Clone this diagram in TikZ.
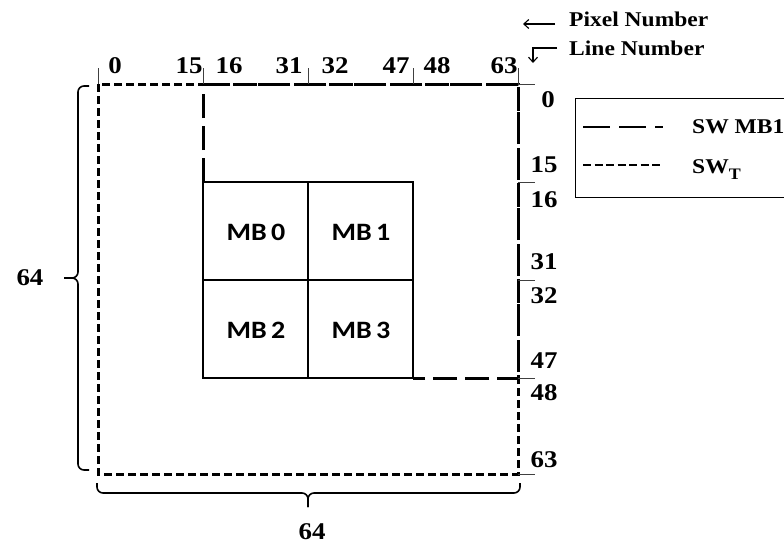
\documentclass[tikz,border=0pt]{standalone}
\usepackage{fontspec}
\setmainfont{Liberation Serif}[FakeStretch=1.12]
\newfontfamily\mbfont{Carlito}[FakeStretch=1.12]
\usetikzlibrary{arrows.meta}
\begin{document}
\begin{tikzpicture}[x=1pt,y=-1pt,
  num/.style={font=\fontsize{24}{26}\selectfont\bfseries, inner sep=0pt},
  lab/.style={font=\fontsize{21}{23}\selectfont\bfseries, inner sep=0pt, anchor=base west},
  mb/.style={font=\mbfont\fontsize{25}{27}\selectfont\bfseries, inner sep=0pt},
  tickline/.style={line width=0.9pt, black!75},
  swt/.style={line width=3pt, dash pattern=on 8pt off 4pt},
  swmb/.style={line width=3pt, dash pattern=on 24pt off 8pt},
  mbline/.style={line width=2.4pt},
  bracepath/.style={line width=1.6pt, rounded corners=6pt},
  arr/.style={line width=1.1pt, -{Straight Barb[length=5pt,width=9pt]}}]
\useasboundingbox (0,0) rectangle (784,546);

% outer search window SW_T
\draw[swt] (98,84) rectangle (518,474);
% search window of MB1
\draw[swmb] (203,182) -- (203,84) -- (518,84) -- (518,378) -- (413,378);
% macroblocks
\draw[mbline] (203,182) rectangle (413,378);
\draw[mbline] (308,182) -- (308,378);
\draw[mbline] (203,280) -- (413,280);
\node[mb] (mb0) at (256,232) {MB\,0};
\node[mb] (mb1) at (361,232) {MB\,1};
\node[mb] (mb2) at (256,330) {MB\,2};
\node[mb] (mb3) at (361,330) {MB\,3};

% top ticks
\foreach \x in {98,203,308,413,518} \draw[tickline] (\x,68) -- (\x,84);
% right ticks
\foreach \y in {84,182,280,378,474} \draw[tickline] (518,\y) -- (535,\y);

% top labels
\node[num] (t0)  at (115,66) {0};
\node[num] (t15) at (189,66) {15};
\node[num] (t16) at (229,66) {16};
\node[num] (t31) at (289,66) {31};
\node[num] (t32) at (335,66) {32};
\node[num] (t47) at (396,66) {47};
\node[num] (t48) at (437,66) {48};
\node[num] (t63) at (504,66) {63};

% right labels
\node[num] (r0)  at (548,100) {0};
\node[num] (r15) at (544,165) {15};
\node[num] (r16) at (544,200) {16};
\node[num] (r31) at (544,262) {31};
\node[num] (r32) at (544,296) {32};
\node[num] (r47) at (544,361) {47};
\node[num] (r48) at (544,393) {48};
\node[num] (r63) at (544,460) {63};

% left brace
\draw[bracepath] (89,86) -- (78,86) -- (78,278) -- (64,278);
\draw[bracepath] (64,278) -- (78,278) -- (78,470) -- (89,470);
\node[num] (left64) at (30,278) {64};
% bottom brace
\draw[bracepath] (97,483) -- (97,493) -- (308,493) -- (308,507);
\draw[bracepath] (308,507) -- (308,493) -- (520,493) -- (520,483);
\node[num] (bot64) at (312,532) {64};

% pixel / line number hints
\node[lab] (pix) at (569,27) {Pixel Number};
\node[lab] (line) at (569,55) {Line Number};
\coordinate (pa) at (555,24);
\coordinate (pb) at (523,24);
\draw[arr] (pa) -- (pb);
\coordinate (la) at (557,48);
\coordinate (lb) at (533,48);
\coordinate (lc) at (533,63);
\draw[arr] (la) -- (lb) -- (lc);

% legend
\draw[line width=0.9pt] (575,98) rectangle (800,197);
\coordinate (l1a) at (583,127);
\coordinate (l1b) at (663,127);
\coordinate (l2a) at (583,165);
\coordinate (l2b) at (663,165);
\draw[line width=2.6pt, dash pattern=on 27pt off 9pt] (l1a) -- (l1b);
\draw[line width=2.2pt, dash pattern=on 8pt off 3.5pt] (l2a) -- (l2b);
\node[lab] (leg1) at (692,133) {SW MB1};
\node[lab] (leg2) at (692,173) {SW\raisebox{-6pt}{\fontsize{16}{18}\selectfont T}};
\end{tikzpicture}
\end{document}
